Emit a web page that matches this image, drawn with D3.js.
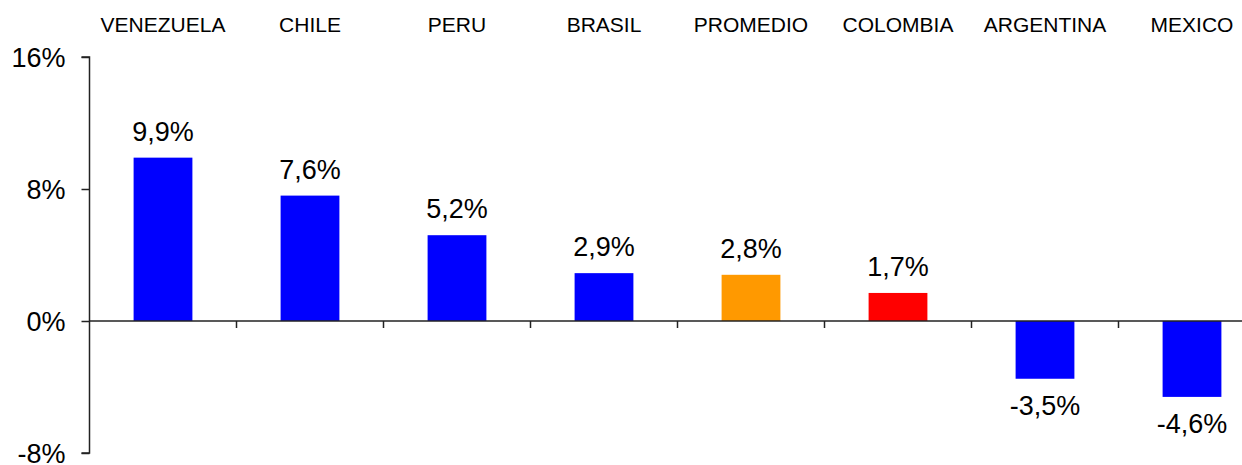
<!DOCTYPE html>
<html>
<head>
<meta charset="utf-8">
<script src="https://cdn.jsdelivr.net/npm/d3@7"></script>
<style>
    body { margin: 0; background: #fff; }
    text { font-family: "Liberation Sans", Arial, sans-serif; fill: #000; }
</style>
</head>
<body>
<script>
// countries, in the order drawn
const countries = ["VENEZUELA", "CHILE", "PERU", "BRASIL", "PROMEDIO", "COLOMBIA", "ARGENTINA", "MEXICO"];
const growth = [9.9, 7.6, 5.2, 2.9, 2.8, 1.7, -3.5, -4.6];
const barColors = ["#0000ff", "#0000ff", "#0000ff", "#0000ff", "#ff9900", "#ff0000", "#0000ff", "#0000ff"];
const yTicks = [16, 8, 0, -8];

const width = 1242, height = 465;

let svg = d3.select("body").append("svg")
    .attr("width", width)
    .attr("height", height);

// plot runs a little past the right edge, like the original
let xScale = d3.scaleBand()
    .domain(countries)
    .range([89.5, 1265.5]);

let yScale = d3.scaleLinear()
    .domain([-8, 16])
    .range([453, 57]);

let step = xScale.step();
let barW = step * 0.4;

// bars
svg.selectAll("rect.bar")
    .data(growth)
    .enter().append("rect")
    .attr("class", "bar")
    .attr("x", (d, i) => xScale(countries[i]) + step / 2 - barW / 2)
    .attr("width", barW)
    .attr("y", d => yScale(Math.max(0, d)))
    .attr("height", d => Math.abs(yScale(d) - yScale(0)))
    .attr("fill", (d, i) => barColors[i]);

// value labels
svg.selectAll("text.val")
    .data(growth)
    .enter().append("text")
    .attr("class", "val")
    .attr("x", (d, i) => xScale(countries[i]) + step / 2)
    .attr("y", d => d >= 0 ? yScale(d) - 17 : yScale(d) + 36)
    .attr("text-anchor", "middle")
    .style("font-size", "27px")
    .text(d => d.toFixed(1).replace(".", ",") + "%");

// country names along the top
svg.selectAll("text.cat")
    .data(countries)
    .enter().append("text")
    .attr("class", "cat")
    .attr("x", d => xScale(d) + step / 2)
    .attr("y", 32)
    .attr("text-anchor", "middle")
    .style("font-size", "21px")
    .text(d => d);

// y axis
let yAxis = svg.append("g")
    .attr("transform", "translate(89.5,0)")
    .call(d3.axisLeft(yScale)
        .tickValues(yTicks)
        .tickSize(8)
        .tickPadding(16)
        .tickFormat(d => d + "%"));
yAxis.select(".domain").attr("stroke", "#222").attr("stroke-width", 1.5)
    .attr("d", "M-8," + yScale(16) + "H0V" + yScale(-8) + "H-8");
yAxis.selectAll(".tick line").attr("stroke", "#222").attr("stroke-width", 1.5);
yAxis.selectAll(".tick text")
    .style("font-size", "27px")
    .attr("dy", "0.34em")
    .attr("fill", "#000");

// zero line with ticks between the countries
let xAxis = svg.append("g")
    .attr("transform", "translate(0," + yScale(0) + ")");
xAxis.append("line")
    .attr("x1", 89.5).attr("x2", 1265.5)
    .attr("stroke", "#222").attr("stroke-width", 1.5);
xAxis.selectAll("line.tk")
    .data(countries.slice(1))
    .enter().append("line")
    .attr("class", "tk")
    .attr("x1", d => xScale(d)).attr("x2", d => xScale(d))
    .attr("y1", 0).attr("y2", 7)
    .attr("stroke", "#222").attr("stroke-width", 1.5);
</script>
</body>
</html>
